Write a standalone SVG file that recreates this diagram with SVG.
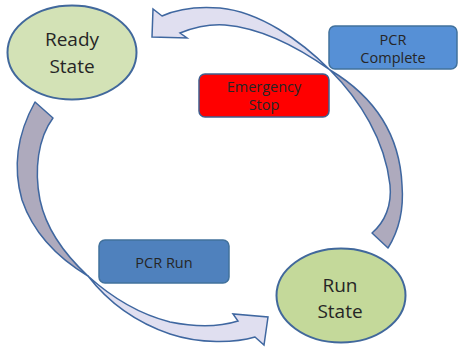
<svg xmlns="http://www.w3.org/2000/svg" width="458" height="349" viewBox="0 0 458 349">
<style>
.state{fill:#d3e2b6;stroke:#41689c;stroke-width:2}
.run{fill:#c4d99a}
.box{stroke:#41719c;stroke-width:1.5}
.blue{fill:#5690d6}
.blue2{fill:#4f81bd}
.red{fill:#ff0000;stroke:#3f5f8f}
.t{font-family:"Open Sans","Noto Sans","DejaVu Sans",sans-serif;fill:#262626;text-anchor:middle}
.big{font-size:19px}
.sm{font-size:14.5px}
.back{fill:#aeaabd;stroke:#3f67a0;stroke-width:1.5;stroke-linejoin:round}
.front{fill:#e0dff0;stroke:#3f67a0;stroke-width:1.5;stroke-linejoin:miter}
</style>
<rect width="458" height="349" fill="#ffffff"/>
<g id="ready">
<ellipse class="state" cx="72" cy="52.5" rx="64.5" ry="47"/>
<text class="t big" x="72" y="46">Ready</text>
<text class="t big" x="72" y="72.5">State</text>
</g>
<g id="runstate">
<ellipse class="state run" cx="341" cy="295.5" rx="64.5" ry="47"/>
<text class="t big" x="340" y="291.5">Run</text>
<text class="t big" x="340" y="317.5">State</text>
</g>
<g id="pcrcomplete">
<rect class="box blue" x="329" y="26" width="128" height="43" rx="6"/>
<text class="t sm" x="393" y="45">PCR</text>
<text class="t sm" x="393" y="63">Complete</text>
</g>
<g id="emergency">
<rect class="box red" x="199" y="74" width="130" height="43" rx="6"/>
<text class="t sm" x="264" y="92">Emergency</text>
<text class="t sm" x="264" y="110">Stop</text>
</g>
<g id="pcrrun">
<rect class="box blue2" x="99" y="240" width="130" height="43" rx="6"/>
<text class="t sm" x="164" y="268">PCR Run</text>
</g>
<g id="connectors">
<path class="back" d="M35,102 L53,118 C38,138 34,170 40,200 C46,228 62,252 88,276 C58,258 34,235 22,200 C14,172 15,138 35,102 Z"/>
<path class="front" d="M88,276 C110,296 135,313 170,322 C200,328 222,326 238,321 L233,314 L268,317 L264,345 L255,337 C235,343 200,344 170,334 C135,322 108,302 88,276 Z"/>
<path class="back" d="M330,70 C360,100 385,140 390,185 C392,205 385,222 372,233 L388,248 C398,232 404,210 402,185 C400,140 380,100 330,70 Z"/>
<path class="front" d="M330,70 C300,40 260,12 220,8 C195,6 175,10 162,16 L153,9 L152,37 L187,38 L180,33 C195,27 210,24 225,25 C260,28 295,45 330,70 Z"/>
</g>
</svg>
